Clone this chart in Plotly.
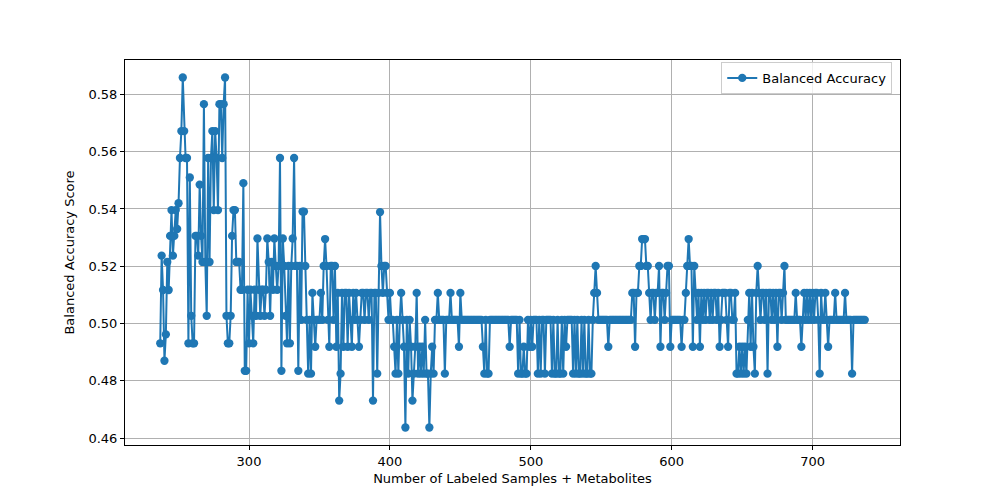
"""
Balanced accuracy vs. number of labeled samples + metabolites
"""

import numpy as np
import plotly.graph_objects as go

# eixo x: uma iteração por amostra rotulada
X_INICIO = 237
X_FIM = 737

# valores (x = 237, 238, ...)
acuracia_balanceada = [
    0.4931, 0.5237, 0.5117,
    0.4870, 0.4962, 0.5215, 0.5117, 0.5306, 0.5396, 0.5237, 0.5306, 0.5396, 0.5330,  # 240
    0.5420, 0.5578, 0.5672, 0.5859, 0.5672, 0.5578, 0.5578, 0.4931, 0.5510, 0.5027,  # 250
    0.4931, 0.4931, 0.5306, 0.5306, 0.5237, 0.5485, 0.5306, 0.5215, 0.5766, 0.5215,  # 260
    0.5027, 0.5578, 0.5215, 0.5578, 0.5672, 0.5396, 0.5672, 0.5578, 0.5396, 0.5766,  # 270
    0.5766, 0.5578, 0.5766, 0.5859, 0.5027, 0.4931, 0.4931, 0.5027, 0.5306, 0.5396,  # 280
    0.5396, 0.5215, 0.5215, 0.5215, 0.5118, 0.5118, 0.5490, 0.4835, 0.4835, 0.5118,  # 290
    0.4931, 0.5118, 0.5027, 0.4931, 0.5118, 0.5027, 0.5297, 0.5118, 0.5027, 0.5118,  # 300
    0.5118, 0.5027, 0.5118, 0.5297, 0.5215, 0.5027, 0.5215, 0.5118, 0.5297, 0.5201,  # 310
    0.5118, 0.5201, 0.5578, 0.4835, 0.5297, 0.5201, 0.5027, 0.4931, 0.5201, 0.4931,  # 320
    0.5201, 0.5297, 0.5578, 0.5201, 0.5201, 0.4835, 0.5201, 0.5013, 0.5391, 0.5391,  # 330
    0.5201, 0.5013, 0.4825, 0.5013, 0.4825, 0.5107, 0.5013, 0.4919, 0.5013, 0.5013,  # 340
    0.5013, 0.5107, 0.5013, 0.5201, 0.5295, 0.5201, 0.5013, 0.4919, 0.5201, 0.5201,  # 350
    0.5013, 0.5201, 0.4919, 0.5107, 0.4731, 0.4825, 0.5107, 0.4919, 0.5107, 0.5107,  # 360
    0.4919, 0.5107, 0.5013, 0.4919, 0.5107, 0.5013, 0.5107, 0.5013, 0.4919, 0.5013,  # 370
    0.5107, 0.5107, 0.5013, 0.5107, 0.5107, 0.5013, 0.5107, 0.5107, 0.4731, 0.5107,  # 380
    0.5107, 0.4825, 0.5107, 0.5389, 0.5201, 0.5107, 0.5201, 0.5201, 0.5107, 0.5013,  # 390
    0.5107, 0.5013, 0.5013, 0.4919, 0.4825, 0.5013, 0.4825, 0.5013, 0.5107, 0.5013,  # 400
    0.4919, 0.4637, 0.5013, 0.4825, 0.5013, 0.4919, 0.4731, 0.4825, 0.4919, 0.5107,  # 410
    0.4825, 0.4919, 0.4825, 0.4919, 0.4825, 0.5013, 0.4825, 0.4825, 0.4637, 0.4825,  # 420
    0.4919, 0.4825, 0.5013, 0.5013, 0.5107, 0.5013, 0.5013, 0.5013, 0.5013, 0.4825,  # 430
    0.5013, 0.5013, 0.5013, 0.5107, 0.5013, 0.5013, 0.5013, 0.5013, 0.5013, 0.4919,  # 440
    0.5107, 0.5013, 0.5013, 0.5013, 0.5013, 0.5013, 0.5013, 0.5013, 0.5013, 0.5013,  # 450
    0.5013, 0.5013, 0.5013, 0.5013, 0.5013, 0.5013, 0.4919, 0.4825, 0.5013, 0.4825,  # 460
    0.4825, 0.5013, 0.5013, 0.5013, 0.5013, 0.5013, 0.5013, 0.5013, 0.5013, 0.5013,  # 470
    0.5013, 0.5013, 0.5013, 0.5013, 0.5013, 0.4919, 0.5013, 0.5013, 0.5013, 0.5013,  # 480
    0.5013, 0.4825, 0.5013, 0.4825, 0.4825, 0.4919, 0.4825, 0.4825, 0.5013, 0.4919,  # 490
    0.5013, 0.4919, 0.5013, 0.5013, 0.5013, 0.4825, 0.5013, 0.4825, 0.5013, 0.5013,  # 500
    0.4825, 0.5013, 0.5013, 0.5013, 0.5013, 0.4825, 0.5013, 0.4825, 0.4825, 0.5013,  # 510
    0.4825, 0.4825, 0.5013, 0.4825, 0.5013, 0.4919, 0.5013, 0.5013, 0.5013, 0.5013,  # 520
    0.4825, 0.5013, 0.4825, 0.5013, 0.4825, 0.4825, 0.5013, 0.4825, 0.5013, 0.4825,  # 530
    0.4825, 0.5013, 0.4825, 0.4825, 0.5013, 0.5107, 0.5201, 0.5107, 0.5013, 0.5013,  # 540
    0.5013, 0.5013, 0.5013, 0.5013, 0.5013, 0.4919, 0.5013, 0.5013, 0.5013, 0.5013,  # 550
    0.5013, 0.5013, 0.5013, 0.5013, 0.5013, 0.5013, 0.5013, 0.5013, 0.5013, 0.5013,  # 560
    0.5013, 0.5013, 0.5107, 0.5107, 0.4919, 0.5107, 0.5107, 0.5201, 0.5201, 0.5295,  # 570
    0.5295, 0.5295, 0.5201, 0.5201, 0.5107, 0.5013, 0.5107, 0.5107, 0.5013, 0.5107,  # 580
    0.5107, 0.5201, 0.4919, 0.5107, 0.5107, 0.5013, 0.5107, 0.5201, 0.5201, 0.4919,  # 590
    0.5013, 0.5013, 0.5013, 0.5013, 0.5013, 0.5013, 0.5013, 0.4919, 0.5013, 0.5013,  # 600
    0.5107, 0.5201, 0.5295, 0.5201, 0.5201, 0.4919, 0.5201, 0.5107, 0.5013, 0.5107,  # 610
    0.4919, 0.5107, 0.5013, 0.5107, 0.5013, 0.5107, 0.5107, 0.5013, 0.5107, 0.5013,  # 620
    0.5107, 0.5107, 0.5013, 0.5107, 0.4919, 0.5013, 0.5107, 0.5107, 0.5107, 0.5013,  # 630
    0.4919, 0.5107, 0.5107, 0.5013, 0.5013, 0.5107, 0.4825, 0.4825, 0.4919, 0.4825,  # 640
    0.4919, 0.4825, 0.4919, 0.4825, 0.5013, 0.5107, 0.4919, 0.5107, 0.4919, 0.4825,  # 650
    0.5107, 0.5201, 0.5107, 0.5013, 0.5107, 0.5107, 0.5013, 0.5107, 0.4825, 0.5107,  # 660
    0.5107, 0.5013, 0.5107, 0.5013, 0.5107, 0.4919, 0.5107, 0.5107, 0.5013, 0.5107,  # 670
    0.5201, 0.5013, 0.5013, 0.5013, 0.5013, 0.5013, 0.5013, 0.5013, 0.5107, 0.5013,  # 680
    0.5013, 0.5013, 0.4919, 0.5013, 0.5107, 0.5013, 0.5107, 0.5013, 0.5107, 0.5013,  # 690
    0.5107, 0.5013, 0.5107, 0.5107, 0.5013, 0.4825, 0.5107, 0.5013, 0.5013, 0.5107,  # 700
    0.5013, 0.4919, 0.5013, 0.5013, 0.5013, 0.5013, 0.5107, 0.5013, 0.5013, 0.5013,  # 710
    0.5013, 0.5013, 0.5013, 0.5107, 0.5013, 0.5013, 0.5013, 0.5013, 0.4825, 0.5013,  # 720
    0.5013, 0.5013, 0.5013, 0.5013, 0.5013, 0.5013, 0.5013, 0.5013,  # 730
]

x_ticks = [300, 400, 500, 600, 700]
y_ticks = [0.46, 0.48, 0.50, 0.52, 0.54, 0.56, 0.58]


def criar_grafico():
    n_amostras = np.arange(X_INICIO, X_FIM + 1)

    fig = go.Figure()
    fig.add_trace(go.Scatter(
        x=n_amostras,
        y=acuracia_balanceada,
        mode='lines+markers',
        name='Balanced Accuracy',
        line=dict(color='#1f77b4', width=2),
        marker=dict(color='#1f77b4', size=8.3),
        showlegend=True,
    ))

    # margens de 5% como no matplotlib
    xmin, xmax = X_INICIO, X_FIM
    dx = (xmax - xmin) * 0.05
    ymin, ymax = min(acuracia_balanceada), max(acuracia_balanceada)
    dy = (ymax - ymin) * 0.05

    eixo = dict(
        showline=True, linecolor='black', linewidth=1, mirror=True,
        showgrid=True, gridcolor='#b0b0b0', gridwidth=0.8,
        ticks='outside', ticklen=4, tickcolor='black',
        zeroline=False,
        tickfont=dict(size=13, color='black'),
        title_font=dict(size=13, color='black'),
    )

    # a página tem 8px de margem no body, por isso os valores compensam
    fig.update_layout(
        width=1000, height=500,
        margin=dict(l=117, r=108, t=52, b=63),
        paper_bgcolor='white', plot_bgcolor='white',
        font=dict(family='DejaVu Sans', size=13, color='black'),
        xaxis=dict(eixo, range=[xmin - dx, xmax + dx], tickvals=x_ticks,
                   title=dict(text='Number of Labeled Samples + Metabolites', standoff=6)),
        yaxis=dict(eixo, range=[ymin - dy, ymax + dy], tickvals=y_ticks,
                   tickformat='.2f',
                   title=dict(text='Balanced Accuracy Score', standoff=10)),
        legend=dict(x=0.99, y=0.995, xanchor='right', yanchor='top',
                    bgcolor='rgba(255,255,255,0.8)', bordercolor='#cccccc',
                    borderwidth=1, font=dict(size=13)),
    )
    return fig


def main():
    fig = criar_grafico()
    fig.write_html("out.html")


if __name__ == "__main__":
    main()
